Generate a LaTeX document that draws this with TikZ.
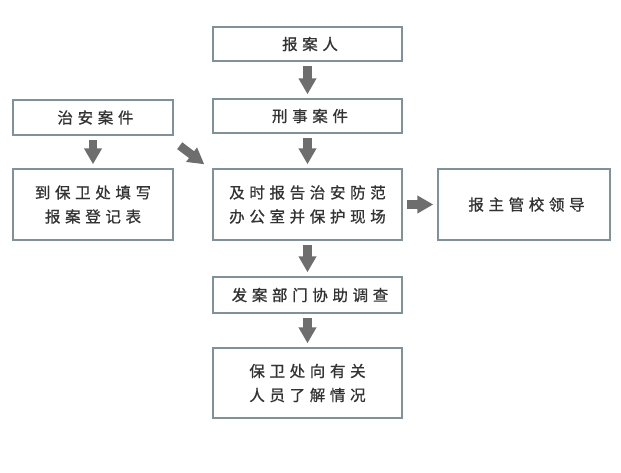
\documentclass[tikz,border=0pt]{standalone}
\usepackage{fontspec}
\usepackage{xcolor}
\usetikzlibrary{arrows.meta}
\setmainfont{Noto Sans CJK SC}[LetterSpace=30, FakeBold=0.9]
\definecolor{boxline}{HTML}{7F9199}
\definecolor{arrowgray}{HTML}{6E6E6E}
\definecolor{textgray}{HTML}{333333}

\begin{document}
\begin{tikzpicture}[x=1pt, y=-1pt,
  step box/.style={draw=boxline, line width=1.4pt, fill=white, text=textgray,
    align=center, font=\fontsize{15.5}{24}\selectfont, inner sep=0pt},
  flow/.style={arrowgray, line width=8.5pt,
    -{Triangle[width=17pt,length=16pt]}, shorten <=4pt, shorten >=4pt}]

\useasboundingbox (0,0) rectangle (621,472);

\node[step box, minimum width=189pt, minimum height=34pt] (reporter) at (307.5,44) {报案人\hspace{-5pt}};
\node[step box, minimum width=189pt, minimum height=34pt] (criminal) at (307.5,116) {刑事案件\hspace{-5pt}};
\node[step box, minimum width=160pt, minimum height=35pt] (security) at (93,117.5) {治安案件\hspace{-5pt}};

\node[step box, minimum width=160pt, minimum height=71pt] (register) at (93,204.5) {到保卫处填写\hspace{-5pt}\\报案登记表\hspace{-5pt}};
\node[step box, minimum width=189pt, minimum height=71pt] (notify) at (307.5,204.5) {及时报告治安防范\hspace{-5pt}\\办公室并保护现场\hspace{-5pt}};
\node[step box, minimum width=172pt, minimum height=71pt] (leader) at (524,204.5) {报主管校领导\hspace{-5pt}};

\node[step box, minimum width=189pt, minimum height=36pt] (assist) at (307.5,295) {发案部门协助调查\hspace{-5pt}};
\node[step box, minimum width=189pt, minimum height=70pt] (inquire) at (307.5,383) {保卫处向有关\hspace{-5pt}\\人员了解情况\hspace{-5pt}};

% arrows
\draw[flow] (reporter) -- (criminal);
\draw[flow] (criminal) -- (notify);
\draw[flow] (security) -- (register);
\draw[flow, shorten <=0pt, shorten >=0pt] ([shift={(6,10)}]security.south east) -- ([shift={(-8,-4)}]notify.north west);
\draw[flow] (notify) -- (leader);
\draw[flow] (notify) -- (assist);
\draw[flow] (assist) -- (inquire);

\end{tikzpicture}
\end{document}
